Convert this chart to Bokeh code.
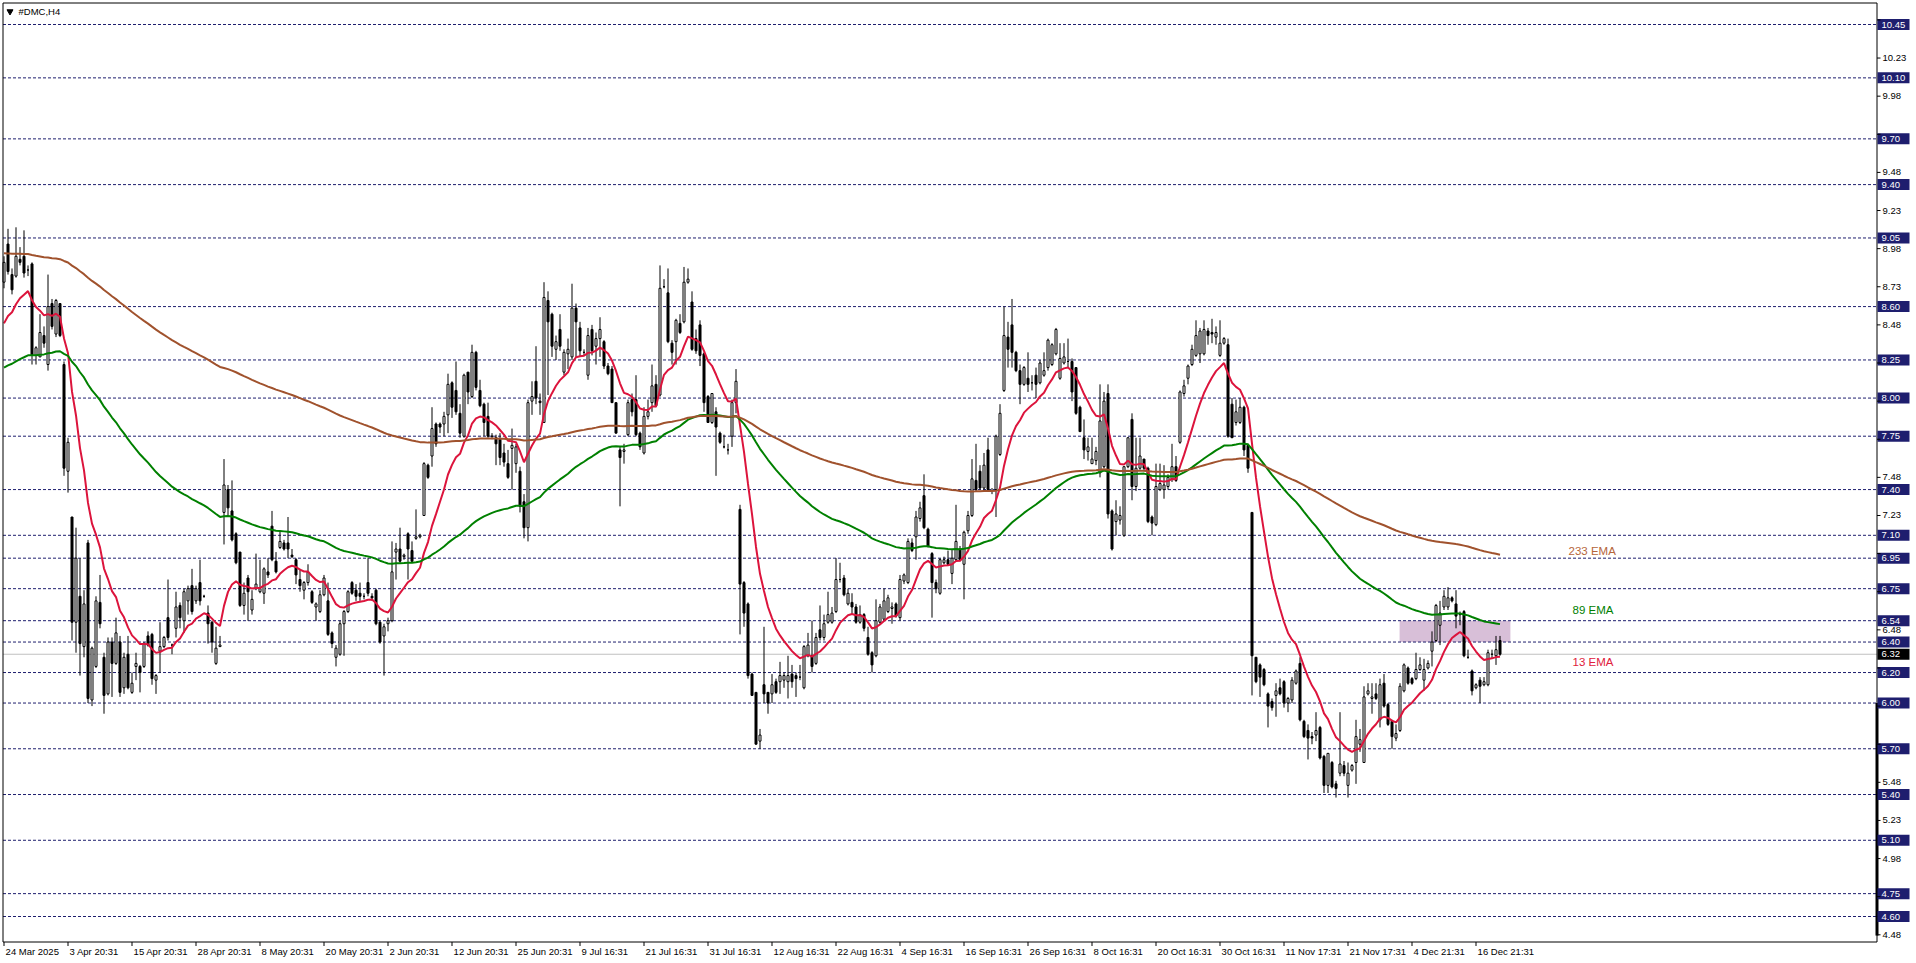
from bokeh.plotting import figure
from bokeh.models import Range1d
from bokeh.core.properties import value
from bokeh.embed import file_html
from bokeh.resources import INLINE

# ------------------------------------------------------------------ data
symbol = "#DMC,H4"

opens = [
    8.76, 9.01, 8.81, 8.80, 8.91, 8.93, 8.84, 8.88, 8.28, 8.27, 8.41, 8.22, 8.62, 8.42, 8.62,
    8.22, 7.52, 7.22, 6.53, 6.70, 6.37, 7.05, 6.02, 6.24, 6.66, 6.30, 6.06, 6.40, 6.26, 6.40,
    6.10, 6.32, 6.07, 6.24, 6.24, 6.24, 6.44, 6.45, 6.15, 6.34, 6.37, 6.56, 6.38, 6.49, 6.64,
    6.54, 6.67, 6.77, 6.67, 6.79, 6.70, 6.59, 6.53, 6.26, 6.37, 7.25, 7.40, 7.26, 7.11, 6.99,
    6.64, 6.82, 6.61, 6.75, 6.73, 6.72, 6.86, 7.16, 6.93, 7.02, 7.05, 7.05, 6.97, 6.94, 6.81,
    6.74, 6.79, 6.73, 6.63, 6.60, 6.71, 6.67, 6.46, 6.30, 6.32, 6.52, 6.60, 6.79, 6.74, 6.72,
    6.70, 6.79, 6.70, 6.74, 6.53, 6.44, 6.52, 6.54, 6.99, 7.01, 6.96, 7.11, 7.00, 7.08, 7.09,
    7.23, 7.56, 7.62, 7.83, 7.83, 7.83, 7.89, 8.10, 8.05, 7.90, 7.75, 8.17, 8.01, 8.30, 8.05,
    7.96, 7.88, 7.75, 7.74, 7.73, 7.64, 7.57, 7.67, 7.57, 7.52, 7.32, 7.15, 7.98, 8.11, 7.98,
    7.84, 8.64, 8.55, 8.32, 8.45, 8.17, 8.29, 8.27, 8.59, 8.46, 8.30, 8.15, 8.45, 8.34, 8.39,
    8.37, 8.21, 8.19, 7.97, 7.66, 7.65, 7.76, 7.99, 7.99, 7.77, 7.64, 7.88, 7.97, 8.09, 8.02,
    8.73, 8.69, 8.36, 8.37, 8.49, 8.50, 8.76, 8.63, 8.39, 8.48, 8.29, 8.01, 7.84, 7.91, 7.77,
    7.68, 7.66, 7.75, 7.97, 7.27, 6.79, 6.65, 6.19, 6.07, 5.75, 6.12, 6.07, 6.06, 6.14, 6.14,
    6.15, 6.14, 6.19, 6.18, 6.17, 6.10, 6.31, 6.31, 6.26, 6.48, 6.43, 6.53, 6.53, 6.60, 6.81,
    6.82, 6.65, 6.66, 6.63, 6.53, 6.58, 6.43, 6.33, 6.31, 6.53, 6.55, 6.60, 6.62, 6.65, 6.56,
    6.80, 6.79, 7.05, 7.09, 7.21, 7.36, 7.14, 6.98, 6.79, 6.72, 6.92, 6.94, 6.85, 6.94, 7.01,
    6.91, 7.13, 7.23, 7.46, 7.52, 7.41, 7.66, 7.39, 7.40, 7.63, 8.05, 8.40, 8.48, 8.30, 8.18,
    8.09, 8.13, 8.10, 8.15, 8.10, 8.15, 8.20, 8.22, 8.29, 8.13, 8.23, 8.24, 8.24, 8.20, 7.94,
    7.74, 7.65, 7.57, 7.59, 7.51, 7.55, 8.03, 7.26, 7.19, 7.20, 7.10, 7.55, 7.86, 7.42, 7.54,
    7.60, 7.54, 7.22, 7.17, 7.40, 7.40, 7.42, 7.47, 7.55, 7.71, 8.03, 8.13, 8.22, 8.28, 8.29,
    8.29, 8.44, 8.43, 8.40, 8.28, 8.36, 8.35, 7.96, 7.84, 7.84, 7.94, 7.69, 7.25, 6.30, 6.25,
    6.22, 6.06, 6.01, 6.05, 6.10, 6.14, 6.00, 6.02, 6.13, 6.26, 5.88, 5.82, 5.78, 5.79, 5.84,
    5.65, 5.46, 5.61, 5.47, 5.54, 5.59, 5.46, 5.56, 5.61, 5.73, 5.61, 6.06, 6.03, 6.06, 5.89,
    6.13, 5.99, 5.88, 5.77, 5.82, 6.08, 6.23, 6.16, 6.16, 6.22, 6.15, 6.23, 6.34, 6.41, 6.51,
    6.63, 6.63, 6.69, 6.65, 6.58, 6.60, 6.30, 6.21, 6.10, 6.15, 6.12, 6.12, 6.32, 6.31, 6.41,
]
highs = [
    8.93, 9.11, 8.85, 9.12, 8.99, 9.10, 8.87, 8.89, 8.34, 8.55, 8.47, 8.81, 8.65, 8.65, 8.62,
    8.24, 7.74, 7.22, 7.15, 6.95, 6.74, 7.07, 6.37, 6.70, 6.84, 6.33, 6.43, 6.43, 6.56, 6.44,
    6.33, 6.44, 6.20, 6.33, 6.25, 6.40, 6.47, 6.46, 6.19, 6.53, 6.44, 6.81, 6.39, 6.73, 6.66,
    6.75, 6.77, 6.88, 6.77, 6.94, 6.71, 6.64, 6.54, 6.50, 6.44, 7.60, 7.43, 7.46, 7.12, 6.99,
    6.79, 6.84, 6.74, 6.98, 6.94, 6.89, 6.95, 7.26, 6.99, 7.13, 7.07, 7.22, 7.01, 6.95, 6.88,
    6.80, 6.91, 6.74, 6.66, 6.74, 6.84, 6.79, 6.47, 6.38, 6.54, 6.61, 6.74, 6.80, 6.78, 6.79,
    6.72, 6.95, 6.72, 6.75, 6.54, 6.52, 6.56, 7.06, 7.05, 7.15, 6.98, 7.12, 7.06, 7.27, 7.11,
    7.58, 7.57, 7.94, 7.84, 7.84, 7.91, 8.16, 8.11, 8.24, 7.96, 8.16, 8.17, 8.35, 8.31, 8.12,
    7.97, 7.97, 7.77, 7.76, 7.77, 7.70, 7.66, 7.80, 7.70, 7.55, 7.37, 7.99, 8.11, 8.34, 8.03,
    8.76, 8.70, 8.56, 8.41, 8.55, 8.32, 8.39, 8.75, 8.62, 8.50, 8.32, 8.46, 8.48, 8.43, 8.53,
    8.38, 8.23, 8.21, 7.97, 7.68, 7.70, 7.99, 8.03, 8.15, 7.78, 7.94, 7.99, 8.22, 8.15, 8.87,
    8.78, 8.85, 8.38, 8.52, 8.55, 8.86, 8.85, 8.70, 8.45, 8.51, 8.30, 8.02, 8.03, 7.94, 7.78,
    7.76, 7.70, 7.99, 8.19, 7.30, 6.80, 6.66, 6.20, 6.07, 5.83, 6.50, 6.07, 6.19, 6.16, 6.27,
    6.20, 6.31, 6.25, 6.20, 6.25, 6.38, 6.46, 6.54, 6.46, 6.64, 6.58, 6.73, 6.63, 6.95, 6.92,
    6.84, 6.75, 6.72, 6.65, 6.64, 6.59, 6.50, 6.34, 6.68, 6.65, 6.75, 6.71, 6.66, 6.66, 6.84,
    6.85, 7.08, 7.08, 7.26, 7.32, 7.50, 7.15, 6.99, 6.81, 6.95, 6.96, 7.00, 7.01, 7.30, 7.03,
    7.13, 7.26, 7.60, 7.70, 7.56, 7.64, 7.74, 7.41, 7.76, 7.96, 8.60, 8.50, 8.65, 8.31, 8.22,
    8.21, 8.30, 8.15, 8.20, 8.25, 8.30, 8.39, 8.36, 8.46, 8.36, 8.36, 8.39, 8.26, 8.20, 7.95,
    7.86, 7.74, 7.74, 7.68, 8.09, 8.04, 8.09, 7.27, 7.33, 7.29, 7.55, 7.74, 7.90, 7.74, 7.74,
    7.60, 7.55, 7.23, 7.57, 7.57, 7.56, 7.50, 7.70, 7.62, 8.05, 8.12, 8.22, 8.35, 8.51, 8.46,
    8.51, 8.46, 8.52, 8.47, 8.51, 8.40, 8.39, 8.00, 7.99, 8.00, 7.95, 7.70, 7.25, 6.30, 6.26,
    6.23, 6.07, 6.03, 6.13, 6.16, 6.15, 6.04, 6.17, 6.22, 6.30, 5.89, 5.86, 5.81, 5.94, 5.85,
    5.66, 5.67, 5.62, 5.49, 5.94, 5.62, 5.61, 5.60, 5.89, 5.83, 6.11, 6.13, 6.13, 6.13, 6.16,
    6.19, 6.00, 5.89, 5.86, 6.13, 6.26, 6.24, 6.17, 6.33, 6.30, 6.29, 6.28, 6.47, 6.65, 6.67,
    6.74, 6.76, 6.70, 6.74, 6.60, 6.61, 6.35, 6.22, 6.13, 6.17, 6.17, 6.35, 6.35, 6.44, 6.44,
]
lows = [
    8.72, 8.81, 8.68, 8.79, 8.87, 8.79, 8.80, 8.22, 8.22, 8.27, 8.33, 8.18, 8.45, 8.40, 8.40,
    7.49, 7.38, 6.41, 6.33, 6.18, 6.30, 6.00, 5.98, 6.23, 6.49, 5.93, 6.05, 6.04, 6.25, 6.04,
    6.06, 6.09, 6.06, 6.15, 6.07, 6.23, 6.37, 6.12, 6.06, 6.20, 6.36, 6.41, 6.32, 6.43, 6.49,
    6.46, 6.58, 6.58, 6.65, 6.64, 6.69, 6.39, 6.33, 6.25, 6.37, 7.04, 7.23, 7.06, 6.91, 6.63,
    6.58, 6.54, 6.58, 6.74, 6.72, 6.65, 6.82, 6.93, 6.85, 7.01, 7.00, 6.95, 6.95, 6.78, 6.73,
    6.68, 6.77, 6.65, 6.54, 6.59, 6.70, 6.44, 6.36, 6.24, 6.31, 6.31, 6.59, 6.71, 6.67, 6.67,
    6.68, 6.70, 6.67, 6.51, 6.39, 6.18, 6.47, 6.53, 6.81, 6.92, 6.94, 6.81, 6.92, 7.07, 7.08,
    7.23, 7.47, 7.55, 7.68, 7.77, 7.75, 7.77, 7.87, 7.89, 7.74, 7.74, 7.96, 8.00, 8.05, 7.94,
    7.75, 7.74, 7.73, 7.56, 7.56, 7.55, 7.47, 7.40, 7.51, 7.25, 7.08, 7.06, 7.89, 7.96, 7.89,
    7.84, 8.02, 8.27, 8.25, 8.31, 8.15, 8.19, 8.25, 8.27, 8.27, 8.28, 8.12, 8.28, 8.22, 8.27,
    8.19, 8.15, 7.97, 7.77, 7.29, 7.57, 7.75, 7.88, 7.75, 7.66, 7.63, 7.86, 7.91, 7.94, 8.01,
    8.72, 8.36, 8.22, 8.22, 8.42, 8.49, 8.75, 8.31, 8.29, 8.21, 7.91, 7.84, 7.83, 7.49, 7.70,
    7.67, 7.63, 7.68, 7.90, 6.45, 6.50, 6.16, 6.05, 5.73, 5.70, 6.00, 5.93, 6.00, 6.06, 6.06,
    6.10, 6.03, 6.10, 6.04, 6.15, 6.09, 6.30, 6.20, 6.25, 6.41, 6.41, 6.52, 6.52, 6.59, 6.79,
    6.70, 6.64, 6.58, 6.52, 6.52, 6.47, 6.31, 6.20, 6.30, 6.52, 6.54, 6.59, 6.52, 6.56, 6.54,
    6.78, 6.78, 6.99, 6.94, 7.19, 7.14, 7.02, 6.56, 6.72, 6.71, 6.91, 6.90, 6.78, 6.93, 6.93,
    6.68, 7.11, 7.22, 7.39, 7.40, 7.40, 7.39, 7.37, 7.22, 7.62, 8.04, 8.20, 8.20, 8.17, 7.96,
    8.08, 8.04, 8.05, 8.00, 8.09, 8.14, 8.18, 8.21, 8.28, 8.12, 8.22, 8.20, 7.98, 7.89, 7.78,
    7.60, 7.59, 7.57, 7.56, 7.48, 7.54, 7.21, 7.00, 7.10, 7.17, 7.09, 7.54, 7.33, 7.39, 7.53,
    7.52, 7.18, 7.10, 7.16, 7.39, 7.34, 7.40, 7.45, 7.45, 7.70, 8.01, 8.09, 8.21, 8.27, 8.23,
    8.28, 8.35, 8.36, 8.35, 8.27, 8.35, 7.74, 7.74, 7.82, 7.83, 7.62, 7.51, 6.05, 6.13, 6.04,
    6.11, 5.84, 5.95, 5.91, 6.05, 5.97, 5.94, 6.00, 6.12, 5.88, 5.77, 5.63, 5.73, 5.75, 5.63,
    5.41, 5.41, 5.44, 5.38, 5.52, 5.52, 5.38, 5.55, 5.47, 5.68, 5.61, 6.05, 5.93, 6.02, 5.84,
    5.97, 5.85, 5.70, 5.75, 5.81, 6.07, 6.12, 6.12, 6.15, 6.21, 6.08, 6.22, 6.24, 6.40, 6.38,
    6.61, 6.61, 6.66, 6.49, 6.51, 6.30, 6.29, 6.05, 6.09, 6.00, 6.11, 6.11, 6.29, 6.25, 6.31,
]
closes = [
    8.89, 8.83, 8.71, 8.93, 8.89, 8.82, 8.84, 8.28, 8.33, 8.43, 8.36, 8.60, 8.47, 8.64, 8.41,
    7.54, 7.71, 6.53, 6.95, 6.39, 6.65, 6.03, 6.36, 6.67, 6.52, 6.05, 6.40, 6.26, 6.46, 6.07,
    6.30, 6.10, 6.13, 6.26, 6.20, 6.39, 6.38, 6.16, 6.18, 6.37, 6.43, 6.43, 6.38, 6.63, 6.56,
    6.73, 6.75, 6.60, 6.75, 6.67, 6.70, 6.52, 6.40, 6.36, 6.38, 7.43, 7.28, 7.07, 6.92, 6.64,
    6.72, 6.73, 6.68, 6.78, 6.75, 6.88, 6.84, 6.94, 6.86, 7.06, 7.01, 7.01, 6.96, 6.84, 6.77,
    6.79, 6.86, 6.66, 6.65, 6.71, 6.82, 6.45, 6.39, 6.36, 6.52, 6.60, 6.73, 6.72, 6.70, 6.70,
    6.70, 6.72, 6.69, 6.52, 6.40, 6.50, 6.54, 6.86, 7.01, 6.93, 6.97, 7.01, 6.93, 7.09, 7.10,
    7.57, 7.48, 7.80, 7.70, 7.81, 7.88, 8.09, 7.94, 7.91, 7.77, 8.15, 8.04, 8.30, 8.07, 7.95,
    7.84, 7.75, 7.75, 7.70, 7.61, 7.58, 7.48, 7.69, 7.68, 7.29, 7.15, 7.97, 8.01, 8.00, 7.97,
    8.66, 8.50, 8.34, 8.37, 8.34, 8.30, 8.32, 8.59, 8.50, 8.31, 8.30, 8.41, 8.31, 8.39, 8.45,
    8.21, 8.16, 7.97, 7.77, 7.61, 7.66, 7.97, 7.91, 7.76, 7.68, 7.88, 7.91, 8.08, 7.95, 8.72,
    8.73, 8.37, 8.30, 8.51, 8.43, 8.76, 8.78, 8.32, 8.31, 8.28, 7.97, 7.84, 8.03, 7.81, 7.71,
    7.68, 7.66, 7.97, 8.11, 6.78, 6.59, 6.18, 6.05, 5.73, 5.79, 6.06, 6.00, 6.12, 6.07, 6.18,
    6.18, 6.18, 6.14, 6.16, 6.17, 6.37, 6.38, 6.24, 6.43, 6.43, 6.52, 6.58, 6.59, 6.81, 6.81,
    6.71, 6.72, 6.63, 6.53, 6.58, 6.49, 6.32, 6.25, 6.54, 6.63, 6.67, 6.69, 6.63, 6.57, 6.81,
    6.84, 7.06, 7.00, 7.22, 7.28, 7.15, 7.03, 6.79, 6.75, 6.94, 6.94, 6.91, 6.95, 7.06, 6.94,
    7.12, 7.23, 7.47, 7.40, 7.41, 7.56, 7.40, 7.39, 7.75, 7.90, 8.41, 8.32, 8.30, 8.18, 8.09,
    8.20, 8.09, 8.10, 8.09, 8.23, 8.18, 8.38, 8.35, 8.45, 8.26, 8.27, 8.24, 8.04, 7.90, 7.78,
    7.66, 7.68, 7.60, 7.65, 7.85, 7.98, 7.24, 7.01, 7.24, 7.23, 7.55, 7.74, 7.42, 7.54, 7.62,
    7.54, 7.19, 7.18, 7.42, 7.44, 7.43, 7.48, 7.55, 7.46, 8.04, 8.08, 8.21, 8.32, 8.41, 8.44,
    8.45, 8.41, 8.42, 8.43, 8.36, 8.39, 7.75, 7.74, 7.91, 7.94, 7.66, 7.54, 6.31, 6.14, 6.17,
    6.12, 5.98, 5.97, 6.08, 6.06, 6.00, 6.03, 6.15, 6.21, 5.89, 5.78, 5.77, 5.77, 5.82, 5.64,
    5.46, 5.67, 5.45, 5.44, 5.60, 5.54, 5.54, 5.59, 5.78, 5.76, 6.04, 6.08, 6.04, 6.03, 6.12,
    5.98, 5.86, 5.78, 5.80, 6.11, 6.25, 6.13, 6.13, 6.22, 6.25, 6.22, 6.26, 6.40, 6.64, 6.59,
    6.70, 6.69, 6.67, 6.57, 6.58, 6.31, 6.30, 6.08, 6.12, 6.11, 6.14, 6.33, 6.32, 6.35, 6.32,
]

time_labels = [
    "24 Mar 2025", "3 Apr 20:31", "15 Apr 20:31", "28 Apr 20:31", "8 May 20:31",
    "20 May 20:31", "2 Jun 20:31", "12 Jun 20:31", "25 Jun 20:31", "9 Jul 16:31",
    "21 Jul 16:31", "31 Jul 16:31", "12 Aug 16:31", "22 Aug 16:31", "4 Sep 16:31",
    "16 Sep 16:31", "26 Sep 16:31", "8 Oct 16:31", "20 Oct 16:31", "30 Oct 16:31",
    "11 Nov 17:31", "21 Nov 17:31", "4 Dec 21:31", "16 Dec 21:31",
]
label_every = 16  # bars between time labels

level_lines = [10.45, 10.10, 9.70, 9.40, 9.05, 8.60, 8.25, 8.00, 7.75, 7.40, 7.10,
               6.95, 6.75, 6.54, 6.40, 6.20, 6.00, 5.70, 5.40, 5.10, 4.75, 4.60]
price_ticks = [10.48, 10.23, 9.98, 9.73, 9.48, 9.23, 8.98, 8.73, 8.48, 8.23, 7.98, 7.73,
               7.48, 7.23, 6.98, 6.73, 6.48, 6.23, 5.98, 5.73, 5.48, 5.23, 4.98, 4.73, 4.48]
last_price = 6.32
zone_prices = [6.40, 6.54]
zone_bars = [348.9, 376.6]
side_bar_prices = [6.00, 4.475]

ema_names = ["13 EMA", "89 EMA", "233 EMA"]
ema_periods = [13, 89, 233]
ema_start = [8.49, 8.20, 8.95]

# ------------------------------------------------------------------ layout
W, H = 1916, 963
PX_BAR = 4.0          # pixels per bar
PX_PRICE = 152.48     # pixels per price unit
X_AT0 = -3.5 / PX_BAR
Y_AT0 = 10.45 + 24 / PX_PRICE


def sx(cx):
    return X_AT0 + cx / PX_BAR


def sy(cy):
    return Y_AT0 - cy / PX_PRICE


FONT = value("Liberation Sans")
NAVY = "#1E1E6E"
EMA_COLORS = ["#DC143C", "#008000", "#A0522D"]
LABEL_COLORS = ["#E0203C", "#008000", "#B5653A"]

p = figure(width=W, height=H, x_range=Range1d(sx(0), sx(W)), y_range=Range1d(sy(H), sy(0)),
           output_backend="svg", toolbar_location=None, min_border=0,
           x_axis_location=None, y_axis_location=None, outline_line_color=None,
           background_fill_color="white", border_fill_color="white")
p.xgrid.visible = False
p.ygrid.visible = False

LEFT, RIGHT, TOP, BOTTOM = sx(2.5), sx(1876.5), sy(2.5), sy(941.5)

# support / resistance zone
p.quad(left=[zone_bars[0]], right=[zone_bars[1]], bottom=[zone_prices[0]], top=[zone_prices[1]],
       fill_color="#D8BFD8", line_color=None)

# horizontal levels
n_lv = len(level_lines)
p.segment(x0=[LEFT] * n_lv, x1=[RIGHT] * n_lv, y0=level_lines, y1=level_lines,
          line_color=NAVY, line_width=1, line_dash="3 2")
p.segment(x0=[LEFT], x1=[RIGHT], y0=[last_price], y1=[last_price], line_color="#C0C0C0", line_width=1)

# candles
n = len(closes)
idx = list(range(n))
p.segment(x0=idx, x1=idx, y0=lows, y1=highs, line_color="black", line_width=1)
up = [i for i in idx if closes[i] >= opens[i]]
dn = [i for i in idx if closes[i] < opens[i]]
p.vbar(x=up, width=0.5, top=[closes[i] for i in up], bottom=[opens[i] for i in up],
       fill_color="white", line_color="black", line_width=1)
p.vbar(x=dn, width=0.5, top=[opens[i] for i in dn], bottom=[closes[i] for i in dn],
       fill_color="black", line_color="black", line_width=1)


# moving averages
def ema(vals, period, first):
    a = 2.0 / (period + 1)
    out = [first]
    for v in vals[1:]:
        out.append(out[-1] + a * (v - out[-1]))
    return out


for per, st, col in zip(ema_periods, ema_start, EMA_COLORS):
    p.line(idx, ema(closes, per, st), line_color=col, line_width=2)

ema_label_px = [(1572, 661), (1572, 609), (1568, 550)]
for name, (cx, cy), col in zip(ema_names, ema_label_px, LABEL_COLORS):
    p.text(x=[sx(cx)], y=[sy(cy)], text=[name], text_font=FONT, text_font_size="11.5px",
           text_color=col, text_align="left", text_baseline="middle")

# chart frame
p.segment(x0=[LEFT, RIGHT, LEFT, LEFT], x1=[LEFT, RIGHT, RIGHT, RIGHT],
          y0=[TOP, TOP, TOP, BOTTOM], y1=[BOTTOM, BOTTOM, TOP, BOTTOM],
          line_color="black", line_width=1)
p.segment(x0=[RIGHT], x1=[RIGHT], y0=[side_bar_prices[0]], y1=[side_bar_prices[1]],
          line_color="black", line_width=3)

# right price scale: boxes for the level lines first, plain tick labels on top
half = 5.5 / PX_PRICE
p.quad(left=[sx(1877)] * n_lv, right=[sx(1909)] * n_lv,
       bottom=[v - half for v in level_lines], top=[v + half for v in level_lines],
       fill_color=NAVY, line_color=None)
p.quad(left=[sx(1877)], right=[sx(1909)], bottom=[last_price - half], top=[last_price + half],
       fill_color="black", line_color=None)
p.text(x=[sx(1881)] * (n_lv + 1), y=level_lines + [last_price],
       text=["%.2f" % v for v in level_lines + [last_price]], text_font=FONT,
       text_font_size="9.5px", text_color="white", text_align="left", text_baseline="middle")

nt = len(price_ticks)
p.segment(x0=[RIGHT] * nt, x1=[sx(1880)] * nt, y0=price_ticks, y1=price_ticks,
          line_color="black", line_width=1)
boxed = level_lines + [last_price]
shown = [t for t in price_ticks if min(abs(t - b) for b in boxed) > 0.045]
p.text(x=[sx(1882)] * len(shown), y=shown, text=["%.2f" % t for t in shown], text_font=FONT,
       text_font_size="9.5px", text_color="black", text_align="left", text_baseline="middle")

# time scale
tick_bars = [k * label_every for k in range(len(time_labels))]
p.segment(x0=tick_bars, x1=tick_bars, y0=[BOTTOM] * len(tick_bars), y1=[sy(945.5)] * len(tick_bars),
          line_color="black", line_width=1)
p.text(x=[b + 0.4 for b in tick_bars], y=[sy(951)] * len(tick_bars), text=time_labels,
       text_font=FONT, text_font_size="9.5px", text_color="black",
       text_align="left", text_baseline="middle")

# title
p.scatter(x=[sx(9.5)], y=[sy(11)], marker="inverted_triangle", size=6, fill_color="black",
          line_color="black")
p.text(x=[sx(18)], y=[sy(10.5)], text=[symbol], text_font=FONT, text_font_size="9.5px",
       text_color="black", text_align="left", text_baseline="middle")

open("out.html", "w").write(file_html(p, INLINE))
